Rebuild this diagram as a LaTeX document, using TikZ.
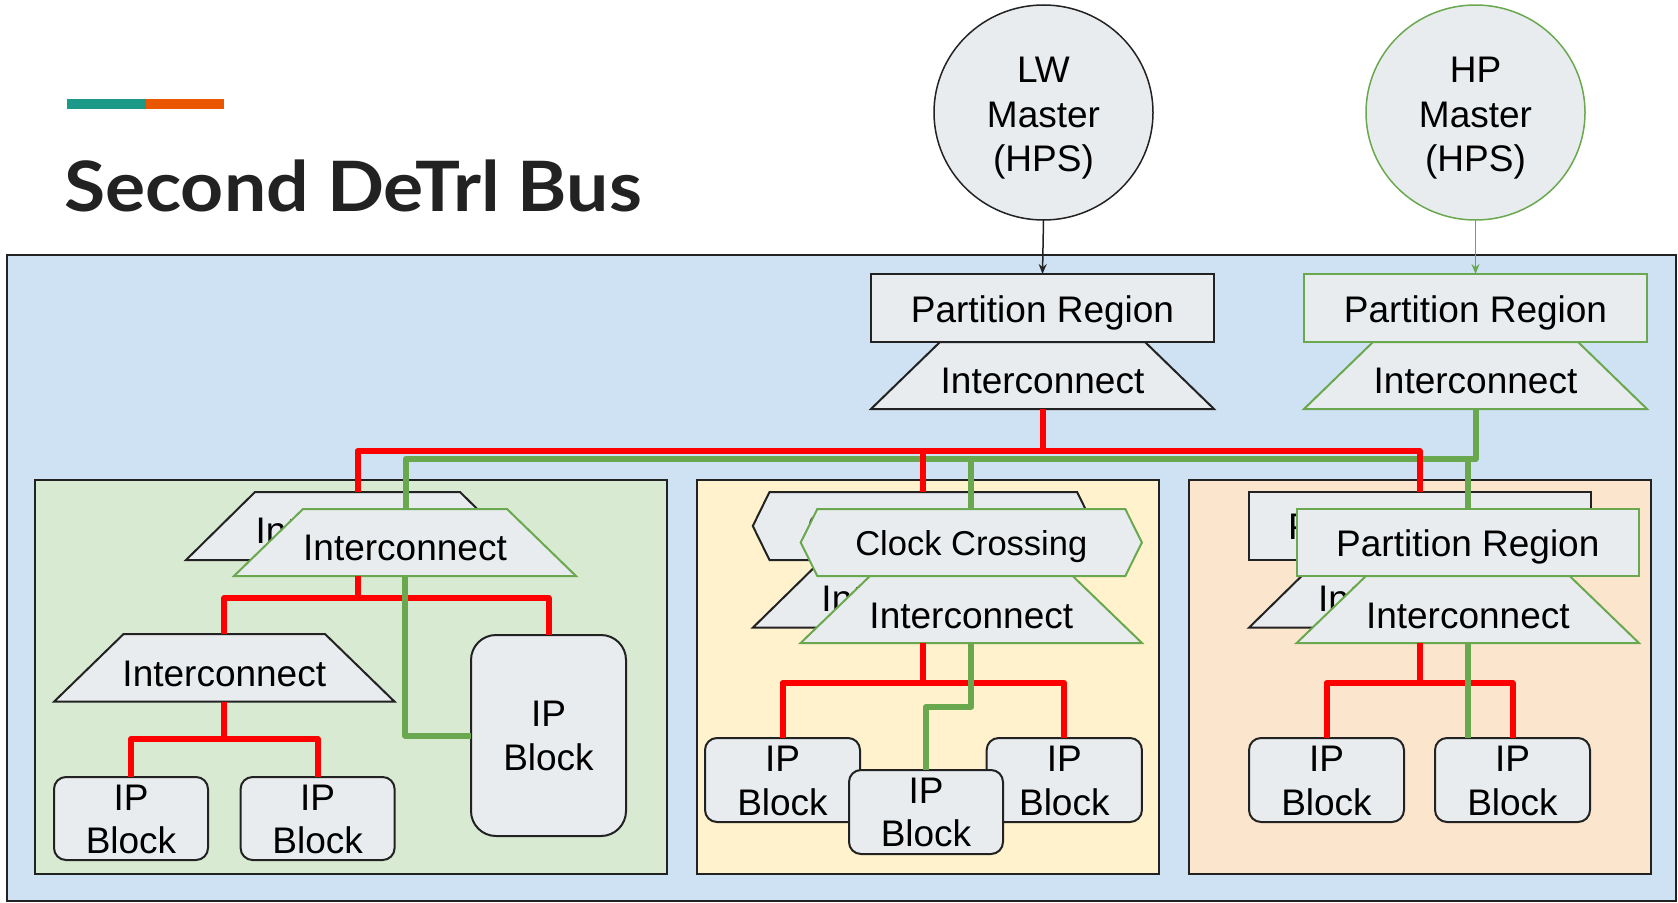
\documentclass[tikz,border=0pt]{standalone}
\usepackage{fontspec}
\setmainfont{Liberation Sans}
\newfontfamily\titlefam{Lato}
\usetikzlibrary{shapes.geometric,arrows.meta,calc}
\definecolor{bgblue}{HTML}{CFE2F3}
\definecolor{reggreen}{HTML}{D9EAD3}
\definecolor{regyellow}{HTML}{FFF2CC}
\definecolor{regpeach}{HTML}{FCE5CD}
\definecolor{shapegray}{HTML}{E8ECEE}
\definecolor{hpgreen}{HTML}{6AA84F}
\definecolor{busred}{HTML}{FF0000}
\definecolor{barteal}{HTML}{1A9988}
\definecolor{barorange}{HTML}{EB5600}
\definecolor{ink}{HTML}{222222}
\begin{document}
\begin{tikzpicture}[x=1pt,y=-1pt,
  frame/.style={inner sep=0pt,outer sep=0pt},
  blk/.style={fill=shapegray,draw=ink,line width=2pt},
  grn/.style={fill=shapegray,draw=hpgreen,line width=2pt},
  region/.style={frame,draw=ink,line width=2pt,minimum height=394},
  ipblk/.style={frame,blk,rounded corners=12pt},
  redl/.style={draw=busred,line width=6pt,line join=round},
  greenl/.style={draw=hpgreen,line width=6pt,line join=round},
  txt/.style={anchor=base,inner sep=0pt,text=black,font=\fontsize{37}{44}\selectfont},
  txtsm/.style={anchor=base,inner sep=0pt,text=black,font=\fontsize{34.5}{41}\selectfont},
  arr/.style={line width=1.5pt,-{Stealth[length=10pt,width=8pt]}}
]
\useasboundingbox (0,0) rectangle (1678,902);
\fill[white] (0,0) rectangle (1678,902);

% title
\fill[barteal] (67,99) rectangle (146,109);
\fill[barorange] (146,99) rectangle (224,109);
\node[anchor=base west,inner sep=0pt,text=ink,font=\titlefam\bfseries\fontsize{69.5}{80}\selectfont] (title) at (64,211) {\scalebox{1.08}[1]{Second DeTrl Bus}};

% main area
\node[frame,draw=ink,line width=2pt,fill=bgblue,minimum width=1669,minimum height=646] (main) at (841.5,578) {};

% masters
\node[frame,ellipse,blk,line width=1.5pt,minimum width=219,minimum height=215] (lw) at (1043.5,112.5) {};
\node[txt] (lwt1) at (1043.5,82) {LW};
\node[txt] (lwt2) at (1043.5,127) {Master};
\node[txt] (lwt3) at (1043.5,171) {(HPS)};
\node[frame,ellipse,grn,line width=1.5pt,minimum width=219,minimum height=215] (hp) at (1475.5,112.5) {};
\node[txt] (hpt1) at (1475.5,82) {HP};
\node[txt] (hpt2) at (1475.5,127) {Master};
\node[txt] (hpt3) at (1475.5,171) {(HPS)};

% top partition regions
\node[frame,blk,minimum width=343,minimum height=68] (lwpr) at (1042.5,308) {};
\node[txt] (lwprt) at (1042.5,322) {Partition Region};
\node[frame,minimum width=343,minimum height=67] (lwic) at (1042.5,375.5) {};
\path[blk] (lwic.south west) -- (lwic.south east) -- ([xshift=-69pt]lwic.north east) -- ([xshift=69pt]lwic.north west) -- cycle;
\node[txt] (lwict) at (1042.5,393.3) {Interconnect};

\node[frame,grn,minimum width=343,minimum height=68] (hppr) at (1475.5,308) {};
\node[txt] (hpprt) at (1475.5,322) {Partition Region};
\node[frame,minimum width=343,minimum height=67] (hpic) at (1475.5,375.5) {};
\path[grn] (hpic.south west) -- (hpic.south east) -- ([xshift=-69pt]hpic.north east) -- ([xshift=69pt]hpic.north west) -- cycle;
\node[txt] (hpict) at (1475.5,393.3) {Interconnect};

\draw[arr,draw=ink] (lw.south) -- (lwpr.north);
\draw[arr,draw=hpgreen] (hp.south) -- (hppr.north);

% regions
\node[region,fill=reggreen,minimum width=632] (rgreen) at (351,677) {};
\node[region,fill=regyellow,minimum width=462] (ryellow) at (928,677) {};
\node[region,fill=regpeach,minimum width=462] (rpeach) at (1420,677) {};

% ---- back (LW) shapes
\node[frame,minimum width=343,minimum height=68] (gbic) at (357.5,526) {};
\path[blk] (gbic.south west) -- (gbic.south east) -- ([xshift=-69pt]gbic.north east) -- ([xshift=69pt]gbic.north west) -- cycle;
\node[txt] (gbict) at (357.5,543.7) {Interconnect};

\node[frame,minimum width=341,minimum height=68] (ybhx) at (923.3,526) {};
\path[blk] (ybhx.west) -- ([xshift=16.7pt]ybhx.north west) -- ([xshift=-16.7pt]ybhx.north east) -- (ybhx.east) -- ([xshift=-16.7pt]ybhx.south east) -- ([xshift=16.7pt]ybhx.south west) -- cycle;
\node[txtsm] (ybhxt) at (923.3,538) {Clock Crossing};
\node[frame,minimum width=341,minimum height=67.7] (ybic) at (923.3,593.85) {};
\path[blk] (ybic.south west) -- (ybic.south east) -- ([xshift=-69pt]ybic.north east) -- ([xshift=69pt]ybic.north west) -- cycle;
\node[txt] (ybict) at (923.3,611) {Interconnect};

\node[frame,blk,minimum width=341.7,minimum height=68] (pbpr) at (1419.8,526) {};
\node[txt] (pbprt) at (1419.8,539) {Partition Region};
\node[frame,minimum width=341.7,minimum height=67.7] (pbic) at (1419.8,593.85) {};
\path[blk] (pbic.south west) -- (pbic.south east) -- ([xshift=-69pt]pbic.north east) -- ([xshift=69pt]pbic.north west) -- cycle;
\node[txt] (pbict) at (1419.8,611) {Interconnect};

% ---- buses
\coordinate (gbus) at (0,459);
\coordinate (rbus) at (0,451);
\draw[greenl] (hpic.south) -- (hpic.south |- gbus) -- (405.5,459) -- (405.5,509);
\draw[greenl] (971.3,459) -- (971.3,509);
\draw[greenl] (1467.8,459) -- (1467.8,509);
\draw[redl] (lwic.south) -- (lwic.south |- rbus);
\draw[redl] (gbic.north) -- (gbic.north |- rbus) -- (pbpr.north |- rbus) -- (pbpr.north);
\draw[redl] (ybhx.north) -- (ybhx.north |- rbus);

\coordinate (gj) at (0,598);
\coordinate (yj) at (0,683);
\draw[redl] (gbic.south) -- (gbic.south |- gj);
\draw[redl] (ybic.south) -- (ybic.south |- yj);
\draw[redl] (pbic.south) -- (pbic.south |- yj);

% ---- front (HP) shapes
\node[frame,minimum width=342,minimum height=67] (gfic) at (405,542.5) {};
\path[grn] (gfic.south west) -- (gfic.south east) -- ([xshift=-69pt]gfic.north east) -- ([xshift=69pt]gfic.north west) -- cycle;
\node[txt] (gfict) at (405,560.7) {Interconnect};

\node[frame,minimum width=341.3,minimum height=67] (yfhx) at (971.3,542.5) {};
\path[grn] (yfhx.west) -- ([xshift=16.7pt]yfhx.north west) -- ([xshift=-16.7pt]yfhx.north east) -- (yfhx.east) -- ([xshift=-16.7pt]yfhx.south east) -- ([xshift=16.7pt]yfhx.south west) -- cycle;
\node[txtsm] (yfhxt) at (971.3,555) {Clock Crossing};
\node[frame,minimum width=341.3,minimum height=67] (yfic) at (971.3,609.5) {};
\path[grn] (yfic.south west) -- (yfic.south east) -- ([xshift=-69.3pt]yfic.north east) -- ([xshift=69.3pt]yfic.north west) -- cycle;
\node[txt] (yfict) at (971.3,628) {Interconnect};

\node[frame,grn,minimum width=342.3,minimum height=67] (pfpr) at (1467.8,542.5) {};
\node[txt] (pfprt) at (1467.8,556) {Partition Region};
\node[frame,minimum width=342.3,minimum height=67] (pfic) at (1467.8,609.5) {};
\path[grn] (pfic.south west) -- (pfic.south east) -- ([xshift=-69.3pt]pfic.north east) -- ([xshift=69.3pt]pfic.north west) -- cycle;
\node[txt] (pfict) at (1467.8,628) {Interconnect};

% ---- green region contents
\node[frame,minimum width=340.6,minimum height=67.7] (glic) at (224.3,667.85) {};
\path[blk] (glic.south west) -- (glic.south east) -- ([xshift=-69.6pt]glic.north east) -- ([xshift=69.6pt]glic.north west) -- cycle;
\node[txt] (glict) at (224.3,686.7) {Interconnect};
\node[ipblk,minimum width=154,minimum height=83] (gb1) at (131,818.5) {};
\node[txt] (gb1a) at (131,810) {IP};
\node[txt] (gb1b) at (131,853) {Block};
\node[ipblk,minimum width=154,minimum height=83] (gb2) at (317.6,818.5) {};
\node[txt] (gb2a) at (317.6,810) {IP};
\node[txt] (gb2b) at (317.6,853) {Block};
\node[frame,blk,rounded corners=25pt,minimum width=155,minimum height=201] (gbig) at (548.5,735.5) {};
\node[txt] (gbiga) at (548.5,726) {IP};
\node[txt] (gbigb) at (548.5,770) {Block};

\coordinate (gj2) at (0,739);
\draw[redl] (gfic.south -| gbic.south) -- (gbic.south |- gj);
\draw[redl] (glic.north) -- (glic.north |- gj) -- (gbig.north |- gj) -- (gbig.north);
\draw[redl] (glic.south) -- (glic.south |- gj2);
\draw[redl] (gb1.north) -- (gb1.north |- gj2) -- (gb2.north |- gj2) -- (gb2.north);
\draw[greenl] (gfic.south) -- (gfic.south |- gbig.west) -- (gbig.west);

% ---- yellow region contents
\node[ipblk,minimum width=155,minimum height=84] (yb1) at (782.5,780) {};
\node[txt] (yb1a) at (782.5,771.7) {IP};
\node[txt] (yb1b) at (782.5,815) {Block};
\node[ipblk,minimum width=155.3,minimum height=84] (yb3) at (1064.3,780) {};
\node[txt] (yb3a) at (1064.3,771.7) {IP};
\node[txt] (yb3b) at (1064.3,815) {Block};
\node[ipblk,minimum width=154,minimum height=84] (yb2) at (926,812) {};
\node[txt] (yb2a) at (926,803) {IP};
\node[txt] (yb2b) at (926,846.7) {Block};
\coordinate (yg) at (0,706.7);
\draw[redl] (yfic.south -| ybic.south) -- (ybic.south |- yj);
\draw[redl] (yb1.north) -- (yb1.north |- yj) -- (yb3.north |- yj) -- (yb3.north);
\draw[greenl] (yfic.south) -- (yfic.south |- yg) -- (yb2.north |- yg) -- (yb2.north);

% ---- peach region contents
\node[ipblk,minimum width=155,minimum height=84] (pb1) at (1326.5,780) {};
\node[txt] (pb1a) at (1326.5,771.7) {IP};
\node[txt] (pb1b) at (1326.5,815) {Block};
\node[ipblk,minimum width=155,minimum height=84] (pb2) at (1512.5,780) {};
\node[txt] (pb2a) at (1512.5,771.7) {IP};
\node[txt] (pb2b) at (1512.5,815) {Block};
\draw[redl] (pfic.south -| pbic.south) -- (pbic.south |- yj);
\draw[redl] (pb1.north) -- (pb1.north |- yj) -- (pb2.north |- yj) -- (pb2.north);
\draw[greenl] (pfic.south) -- (pfic.south |- pb2.north);
\end{tikzpicture}
\end{document}
